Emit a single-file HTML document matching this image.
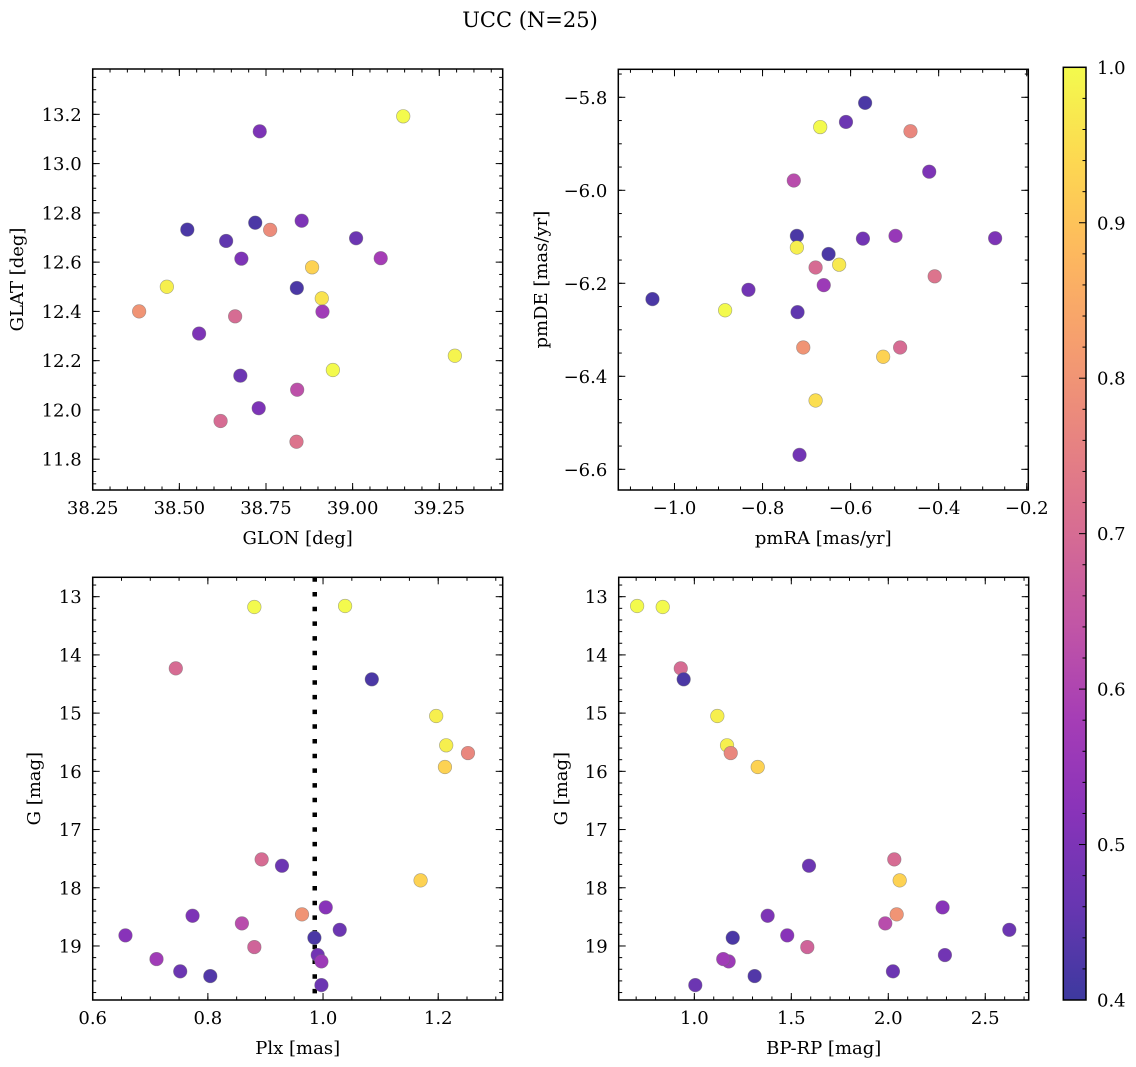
<!DOCTYPE html>
<html><head><meta charset="utf-8"><style>
html,body{margin:0;padding:0;background:#fff;}
svg{display:block;font-family:"DejaVu Serif","Liberation Serif",serif;}
</style></head><body>
<svg id="fig" width="1136" height="1067" viewBox="0 0 1136 1067" xmlns="http://www.w3.org/2000/svg">
<text x="530" y="27" font-size="21" text-anchor="middle">UCC (N=25)</text>
</svg>
<script>
// Panel 1: GLON vs GLAT
const glon = [38.732,39.146,38.523,38.719,38.762,38.853,38.635,39.010,38.679,39.081,38.883,38.464,38.839,38.911,38.384,38.913,38.661,38.557,39.295,38.943,38.676,38.840,38.729,38.619,38.838];
const glat = [13.131,13.192,12.732,12.760,12.731,12.768,12.686,12.697,12.614,12.616,12.579,12.500,12.495,12.453,12.400,12.399,12.380,12.310,12.220,12.162,12.139,12.082,12.007,11.955,11.871];
const prob1 = [0.50,1.00,0.42,0.42,0.78,0.50,0.45,0.47,0.50,0.58,0.93,0.98,0.42,0.96,0.80,0.57,0.70,0.50,0.99,1.00,0.47,0.63,0.50,0.70,0.72];
// Panel 2: pmRA vs pmDE
const pmra = [-0.567,-0.6105,-0.669,-0.464,-0.4214,-0.729,-0.722,-0.572,-0.498,-0.2717,-0.722,-0.650,-0.626,-0.6795,-0.409,-0.661,-0.832,-1.050,-0.885,-0.7205,-0.7075,-0.4875,-0.526,-0.6795,-0.716];
const pmde = [-5.812,-5.853,-5.864,-5.873,-5.960,-5.979,-6.098,-6.104,-6.098,-6.103,-6.123,-6.137,-6.160,-6.166,-6.185,-6.204,-6.214,-6.234,-6.258,-6.262,-6.338,-6.338,-6.358,-6.452,-6.569];
const prob2 = [0.42,0.47,1.00,0.77,0.50,0.62,0.42,0.48,0.55,0.50,0.98,0.42,0.97,0.70,0.72,0.56,0.48,0.42,1.00,0.45,0.80,0.70,0.93,0.95,0.48];
// Panel 3: Plx vs G
const plx = [0.8807,1.0383,0.7443,1.0847,1.1965,1.2139,1.2517,1.2117,0.8934,0.9287,1.1694,1.0047,0.9635,0.7734,0.8591,1.029,0.6569,0.985,0.8807,0.9908,0.9972,0.7108,0.752,0.8042,0.9972];
const gmag3 = [13.177,13.160,14.231,14.419,15.050,15.553,15.686,15.926,17.513,17.622,17.873,18.337,18.457,18.481,18.612,18.722,18.818,18.859,19.019,19.156,19.265,19.225,19.436,19.517,19.672];
const prob3 = [1.00,1.00,0.70,0.42,0.98,0.98,0.77,0.93,0.70,0.47,0.93,0.52,0.80,0.50,0.62,0.47,0.52,0.42,0.68,0.48,0.56,0.57,0.47,0.43,0.47];
const plxLine = [0.9856];
// Panel 4: BP-RP vs G
const bprp = [0.705,0.837,0.930,0.945,1.1186,1.1686,1.1876,1.3268,1.5912,2.031,2.0588,2.280,2.0433,1.378,1.9845,2.624,1.479,1.198,1.5825,2.292,1.177,1.149,2.024,1.311,1.005];
const gmag4 = [13.160,13.177,14.231,14.419,15.050,15.553,15.686,15.926,17.622,17.513,17.873,18.337,18.457,18.481,18.612,18.722,18.818,18.859,19.019,19.156,19.265,19.225,19.436,19.517,19.672];
const prob4 = [1.00,1.00,0.70,0.42,0.98,0.98,0.77,0.93,0.47,0.70,0.93,0.52,0.80,0.50,0.62,0.47,0.52,0.42,0.68,0.48,0.56,0.57,0.47,0.43,0.47];
// Tick labels
const ticks1x = [38.25,38.5,38.75,39.0,39.25];
const ticks1xLabels = ["38.25","38.50","38.75","39.00","39.25"];
const ticks1y = [11.8,12.0,12.2,12.4,12.6,12.8,13.0,13.2];
const ticks1yLabels = ["11.8","12.0","12.2","12.4","12.6","12.8","13.0","13.2"];
const ticks2x = [-1.0,-0.8,-0.6,-0.4,-0.2];
const ticks2xLabels = ["\u22121.0","\u22120.8","\u22120.6","\u22120.4","\u22120.2"];
const ticks2y = [-6.6,-6.4,-6.2,-6.0,-5.8];
const ticks2yLabels = ["\u22126.6","\u22126.4","\u22126.2","\u22126.0","\u22125.8"];
const ticks3x = [0.6,0.8,1.0,1.2];
const ticks3xLabels = ["0.6","0.8","1.0","1.2"];
const ticksGy = [13,14,15,16,17,18,19];
const ticksGyLabels = ["13","14","15","16","17","18","19"];
const ticks4x = [1.0,1.5,2.0,2.5];
const ticks4xLabels = ["1.0","1.5","2.0","2.5"];
const cbTicks = [0.4,0.5,0.6,0.7,0.8,0.9,1.0];
const cbTickLabels = ["0.4","0.5","0.6","0.7","0.8","0.9","1.0"];

const NS = "http://www.w3.org/2000/svg";
const svg = document.getElementById('fig');
function mk(tag, attrs, parent){
  const e = document.createElementNS(NS, tag);
  for (const k in attrs) e.setAttribute(k, attrs[k]);
  (parent||svg).appendChild(e);
  return e;
}
const plasma = ["#0d0887","#41049d","#6a00a8","#8f0da4","#b12a90","#cc4778","#e16462","#f2844b","#fca636","#fcce25","#f0f921"];
function hex2rgb(h){return [parseInt(h.substr(1,2),16),parseInt(h.substr(3,2),16),parseInt(h.substr(5,2),16)];}
function cmap(v){
  let t = (v-0.4)/0.6; t = Math.max(0,Math.min(1,t));
  const f = t*10, i = Math.min(9, Math.floor(f)), r = f-i;
  const a = hex2rgb(plasma[i]), b = hex2rgb(plasma[i+1]);
  const alpha = 0.8;
  const c = a.map((x,k)=> Math.round((x+(b[k]-x)*r)*alpha + 255*(1-alpha)));
  return `rgb(${c[0]},${c[1]},${c[2]})`;
}

function panel(cfg){
  const g = mk('g', {});
  
  
  const L=cfg.box[0], R=cfg.box[1], T=cfg.box[2], B=cfg.box[3];
  const sx = v => L + (v-cfg.xr[0])/(cfg.xr[1]-cfg.xr[0])*(R-L);
  const sy = cfg.invert ? (v => T + (v-cfg.yr[0])/(cfg.yr[1]-cfg.yr[0])*(B-T))
                        : (v => B - (v-cfg.yr[0])/(cfg.yr[1]-cfg.yr[0])*(B-T));
  const lo = Math.min(cfg.yr[0],cfg.yr[1]), hi = Math.max(cfg.yr[0],cfg.yr[1]);
  // minor ticks
  const tg = mk('g', {stroke:'#000','stroke-width':1}, g);
  
  
  for (let v = Math.ceil(cfg.xr[0]/cfg.xminor-1e-6)*cfg.xminor; v <= cfg.xr[1]+1e-9; v += cfg.xminor){
    const x = sx(v);
    mk('line',{x1:x,x2:x,y1:B,y2:B-3.5},tg); mk('line',{x1:x,x2:x,y1:T,y2:T+3.5},tg);
  }
  for (let v = Math.ceil(lo/cfg.yminor-1e-6)*cfg.yminor; v <= hi+1e-9; v += cfg.yminor){
    const y = sy(v);
    mk('line',{x1:L,x2:L+3.5,y1:y,y2:y},tg); mk('line',{x1:R,x2:R-3.5,y1:y,y2:y},tg);
  }
  cfg.xt.forEach((v,i)=>{
    const x = sx(v);
    mk('line',{x1:x,x2:x,y1:B,y2:B-7},tg); mk('line',{x1:x,x2:x,y1:T,y2:T+7},tg);
    const t = mk('text',{x:x,y:B+24,'font-size':18,'text-anchor':'middle'},g);
    t.textContent = cfg.xtl[i];
    
    
  });
  cfg.yt.forEach((v,i)=>{
    const y = sy(v);
    mk('line',{x1:L,x2:L+7,y1:y,y2:y},tg); mk('line',{x1:R,x2:R-7,y1:y,y2:y},tg);
    const t = mk('text',{x:L-11,y:y+6.5,'font-size':18,'text-anchor':'end'},g);
    t.textContent = cfg.ytl[i];
    
    
  });
  // extra line
  if (cfg.vline){
    cfg.vline.forEach(v=>{
      const ln = mk('line',{x1:sx(v),x2:sx(v),y1:T,y2:B,stroke:'#000','stroke-width':4.5,'stroke-dasharray':'4.5 10.2'},g);
      
      
    });
  }
  // points
  cfg.xs.forEach((xv,i)=>{
    const c = mk('circle',{cx:sx(xv),cy:sy(cfg.ys[i]),r:6.8,fill:cmap(cfg.cs[i]),stroke:'rgba(110,110,110,0.6)','stroke-width':0.6},g);
    
    
  });
  const fr = mk('rect',{x:L,y:T,width:R-L,height:B-T,fill:'none',stroke:'#000','stroke-width':1.5},g);
  
  
  const xl = mk('text',{x:(L+R)/2,y:B+54,'font-size':18,'text-anchor':'middle'},g);
  xl.textContent = cfg.xlabel;
  
  
  const yl = mk('text',{x:0,y:0,'font-size':18,'text-anchor':'middle',transform:`translate(${cfg.ylx},${(T+B)/2}) rotate(-90)`},g);
  yl.textContent = cfg.ylabel;
  
  
}

panel({name:'glon-glat-panel',box:[92.7,502.7,69,490],xr:[38.25,39.433],yr:[11.675,13.384],
  xt:ticks1x,xtl:ticks1xLabels,yt:ticks1y,ytl:ticks1yLabels,xminor:0.05,yminor:0.05,
  xs:glon,ys:glat,cs:prob1,xlabel:'GLON [deg]',ylabel:'GLAT [deg]',ylx:23});
panel({name:'pm-panel',box:[618.3,1028.3,69.3,490],xr:[-1.1276,-0.1964],yr:[-6.6445,-5.7398],
  xt:ticks2x,xtl:ticks2xLabels,yt:ticks2y,ytl:ticks2yLabels,xminor:0.05,yminor:0.05,
  xs:pmra,ys:pmde,cs:prob2,xlabel:'pmRA [mas/yr]',ylabel:'pmDE [mas/yr]',ylx:547});
panel({name:'plx-g-panel',box:[92.7,502.7,577.3,1000],xr:[0.6,1.312],yr:[12.667,19.928],invert:true,
  xt:ticks3x,xtl:ticks3xLabels,yt:ticksGy,ytl:ticksGyLabels,xminor:0.05,yminor:0.2,
  xs:plx,ys:gmag3,cs:prob3,xlabel:'Plx [mas]',ylabel:'G [mag]',ylx:40,vline:plxLine});
panel({name:'cmd-panel',box:[618.7,1028.7,577.3,1000],xr:[0.610,2.724],yr:[12.667,19.928],invert:true,
  xt:ticks4x,xtl:ticks4xLabels,yt:ticksGy,ytl:ticksGyLabels,xminor:0.1,yminor:0.2,
  xs:bprp,ys:gmag4,cs:prob4,xlabel:'BP-RP [mag]',ylabel:'G [mag]',ylx:567});

// colorbar
(function(){
  const L=1063.3,R=1086,T=67.3,B=1000;
  const cb = mk('g',{});
  
  
  const defs = mk('defs',{},cb);
  const lg = mk('linearGradient',{id:'cbg',x1:0,y1:1,x2:0,y2:0},defs);
  for (let i=0;i<=20;i++){
    const v = 0.4 + 0.6*i/20;
    mk('stop',{offset:(i/20),'stop-color':cmap(v)},lg);
  }
  mk('rect',{x:L,y:T,width:R-L,height:B-T,fill:'url(#cbg)'},cb);
  const sy = v => B - (v-0.4)/0.6*(B-T);
  for (let k=0;k<=30;k++){
    const v = 0.4 + k*0.02;
    const y = sy(v);
    const major = (k%5===0);
    mk('line',{x1:R,x2:R-(major?7:3.5),y1:y,y2:y,stroke:'#000','stroke-width':1},cb);
  }
  cbTicks.forEach((v,i)=>{
    const t = mk('text',{x:R+11,y:sy(v)+6.5,'font-size':18},cb);
    t.textContent = cbTickLabels[i];
    
    
  });
  mk('rect',{x:L,y:T,width:R-L,height:B-T,fill:'none',stroke:'#000','stroke-width':1.5},cb);
})();
</script>
</body></html>
